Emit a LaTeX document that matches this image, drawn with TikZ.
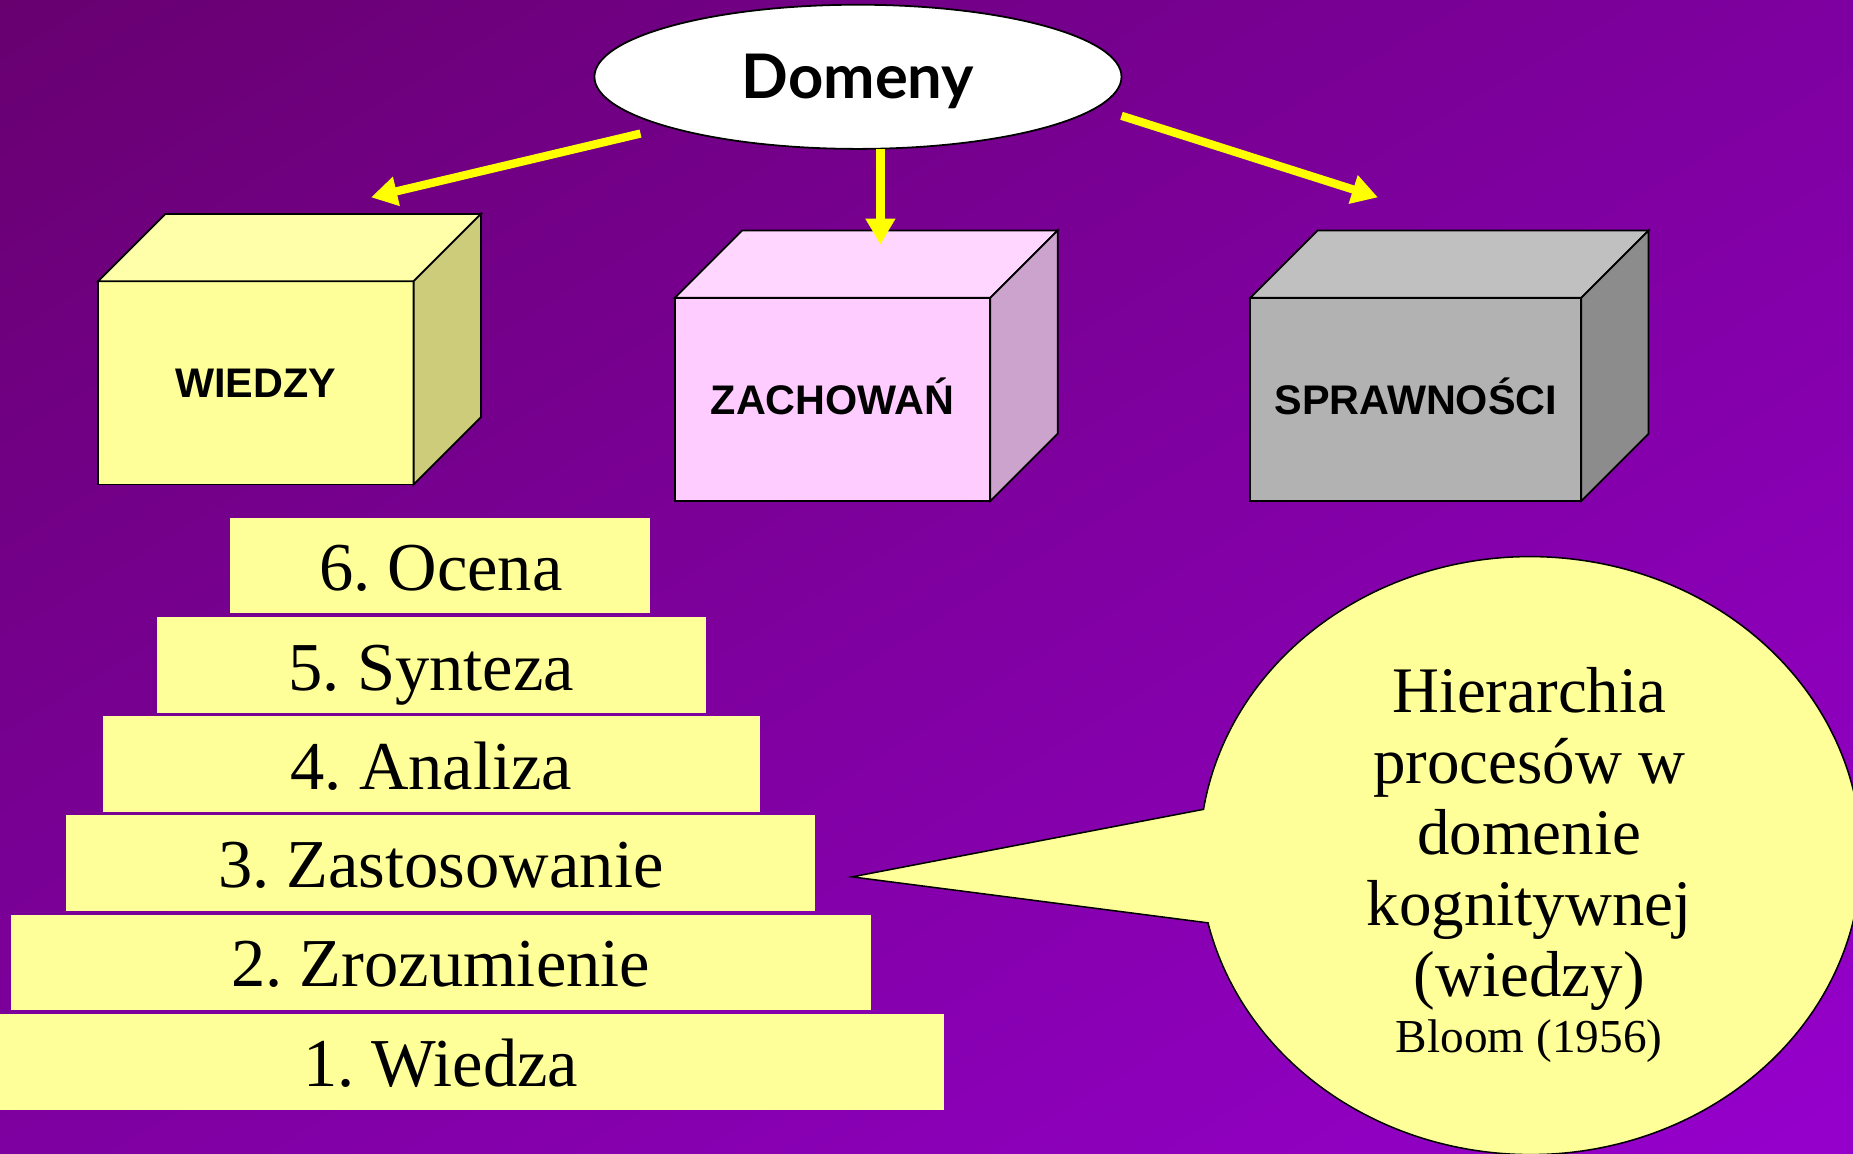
\documentclass[tikz,border=0pt]{standalone}
\usepackage{fontspec}
\setmainfont{Liberation Serif}
\setsansfont{Liberation Sans}
\newfontfamily\domfont{Lato}
\usetikzlibrary{arrows.meta,calc,shapes.geometric,shadings}
\definecolor{bgA}{HTML}{680070}
\definecolor{bgB}{HTML}{9600CC}
\definecolor{bgM}{HTML}{7E00A0}
\definecolor{pale}{HTML}{FFFF99}
\definecolor{wtop}{HTML}{FFFFAA}
\definecolor{wside}{HTML}{CCCC7A}
\definecolor{zfront}{HTML}{FFCCFF}
\definecolor{ztop}{HTML}{FFD6FF}
\definecolor{zside}{HTML}{CCA3CC}
\definecolor{sfront}{HTML}{B2B2B2}
\definecolor{stop}{HTML}{C0C0C0}
\definecolor{sside}{HTML}{8C8C8C}
\definecolor{arrowyellow}{HTML}{FFFF00}
\tikzset{
  front/.style={draw=black, line width=1.5pt, inner sep=0pt, outer sep=0pt,
    minimum height=172, font=\sffamily\bfseries\fontsize{35}{40}\selectfont,
    text height=25pt, text depth=0pt},
  cubeline/.style={draw=black, line width=1.5pt, line join=miter},
  yarrow/.style={draw=arrowyellow, line width=7pt,
    -{Triangle[width=24pt,length=22pt]}},
  stepbox/.style={fill=pale, inner sep=0pt, outer sep=0pt, anchor=north west,
    minimum height=81},
  steplbl/.style={anchor=base, inner sep=0pt, font=\fontsize{58}{60}\selectfont},
  calllbl/.style={anchor=base, inner sep=0pt, font=\fontsize{55}{60}\selectfont},
  callout/.style={fill=pale, draw=black, line width=1.3pt, line join=miter}
}
\frenchspacing
\begin{document}
\frenchspacing
\begin{tikzpicture}[x=1pt,y=-1pt]
\useasboundingbox (0,0) rectangle (1568,976);
\shade[upper left=bgA, lower right=bgB, upper right=bgM, lower left=bgM]
  (0,0) rectangle (1568,976);

% ---- ellipse Domeny
\node[ellipse, draw=black, fill=white, line width=1.5pt, inner sep=0pt,
  minimum width=446, minimum height=122,
  font=\domfont\bfseries\fontsize{52}{56}\selectfont,
  text height=37pt, text depth=0pt] (dom) at (726,65) {Domeny};

% ---- cubes
\node[front, fill=pale, minimum width=267] (w) at (216.5,324) {WIEDZY};
\draw[cubeline, fill=wtop] (w.north west) -- ++(57,-57) -- ++(267,0) -- (w.north east) -- cycle;
\draw[cubeline, fill=wside] (w.north east) -- ++(57,-57) -- ++(0,172) -- (w.south east) -- cycle;

\node[front, fill=zfront, minimum width=267] (z) at (704.5,338) {ZACHOWAŃ};
\draw[cubeline, fill=ztop] (z.north west) -- ++(57,-57) -- ++(267,0) -- (z.north east) -- cycle;
\draw[cubeline, fill=zside] (z.north east) -- ++(57,-57) -- ++(0,172) -- (z.south east) -- cycle;

\node[front, fill=sfront, minimum width=280] (s) at (1198,338) {SPRAWNOŚCI};
\draw[cubeline, fill=stop] (s.north west) -- ++(57,-57) -- ++(280,0) -- (s.north east) -- cycle;
\draw[cubeline, fill=sside] (s.north east) -- ++(57,-57) -- ++(0,172) -- (s.south east) -- cycle;

% ---- arrows
\coordinate (a1s) at (542,113);
\coordinate (a1e) at (314,167);
\coordinate (a2s) at (745,126);
\coordinate (a2e) at (745,207);
\coordinate (a3s) at (949,98);
\coordinate (a3e) at (1166,167);
\draw[yarrow] (a1s) -- (a1e);
\draw[yarrow] (a2s) -- (a2e);
\draw[yarrow] (a3s) -- (a3e);

% ---- steps
\node[stepbox, minimum width=355] (s6) at (195,438) {};
\node[stepbox, minimum width=464] (s5) at (133,522) {};
\node[stepbox, minimum width=556] (s4) at (87,606) {};
\node[stepbox, minimum width=634] (s3) at (56,690) {};
\node[stepbox, minimum width=728] (s2) at (9,774) {};
\node[stepbox, minimum width=799] (s1) at (0,858) {};
\node[steplbl] (l6) at (373,500) {6. Ocena};
\node[steplbl] (l5) at (365,584) {5. Synteza};
\node[steplbl] (l4) at (365,668) {4. Analiza};
\node[steplbl] (l3) at (373,751) {3. Zastosowanie};
\node[steplbl] (l2) at (373,835) {2. Zrozumienie};
\node[steplbl] (l1) at (373,919) {1. Wiedza};

% ---- callout
\coordinate (cc) at (1295,724);
\coordinate (tip) at (721,742);
\path (cc) ++(188.9:280 and 253) coordinate (cu);
\draw[callout] (cu) arc[start angle=188.9, end angle=527, x radius=280, y radius=253] -- (tip) -- cycle;
\node[calllbl] (t1) at (1294,603) {Hierarchia};
\node[calllbl] (t2) at (1294,663) {procesów w};
\node[calllbl] (t3) at (1294,723) {domenie};
\node[calllbl] (t4) at (1294,783) {kognitywnej};
\node[calllbl] (t5) at (1294,843) {(wiedzy)};
\node[calllbl, font=\fontsize{40}{44}\selectfont] (t6) at (1294,891) {Bloom (1956)};
\end{tikzpicture}
\end{document}
